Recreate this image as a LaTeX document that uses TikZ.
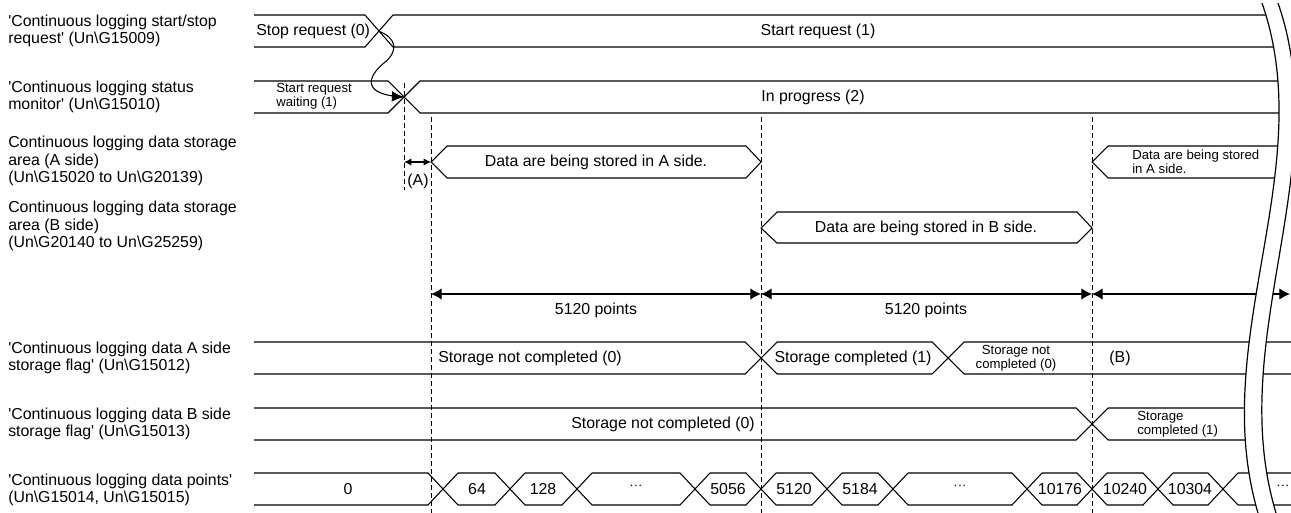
\documentclass[tikz,border=0pt]{standalone}
\usepackage{fontspec}
\setmainfont{Liberation Sans}
\usetikzlibrary{positioning,
calc,
arrows.meta,
decorations.markings}
\tikzstyle{Sig} = [line width=0.8pt, line join=miter]
\tikzstyle{Guide} = [line width=0.7pt, dash pattern=on 3.5pt off 2.5pt]
\tikzstyle{Dim} = [line width=0.8pt, {Latex[length=8pt,width=8.5pt]}-{Latex[length=8pt,width=8.5pt]}]
\tikzstyle{Txt} = [inner sep=0pt, font=\fontsize{11.9}{13.1}\selectfont]
\tikzstyle{Small} = [inner sep=0pt, align=left, font=\fontsize{9.9}{10.6}\selectfont]
\tikzstyle{Name} = [Txt, anchor=west, align=left]
\tikzstyle{Arrow} = [
line width=0.8pt,
decoration={
markings,
mark=at position 0.999 with {
\arrow{Latex[length=9pt,width=8pt]}
}
},
postaction = {decorate}
]

\begin{document}
\begin{tikzpicture}[x=0.75pt, y=-0.75pt]
   \useasboundingbox (0,0) rectangle (1291,513);

   % signal names
   \node[Name] (n1) at (8,31) {\textquotesingle Continuous logging start/stop\\request\textquotesingle\ (Un\textbackslash G15009)};
   \node[Name] (n2) at (8,97) {\textquotesingle Continuous logging status\\monitor\textquotesingle\ (Un\textbackslash G15010)};
   \node[Name] (n3) at (8,161) {Continuous logging data storage\\area (A side)\\(Un\textbackslash G15020 to Un\textbackslash G20139)};
   \node[Name] (n4) at (8,226) {Continuous logging data storage\\area (B side)\\(Un\textbackslash G20140 to Un\textbackslash G25259)};
   \node[Name] (n5) at (8,358) {\textquotesingle Continuous logging data A side\\storage flag\textquotesingle\ (Un\textbackslash G15012)};
   \node[Name] (n6) at (8,424) {\textquotesingle Continuous logging data B side\\storage flag\textquotesingle\ (Un\textbackslash G15013)};
   \node[Name] (n7) at (8,490) {\textquotesingle Continuous logging data points\textquotesingle\\(Un\textbackslash G15014, Un\textbackslash G15015)};

   % rows cut at the break
   \begin{scope}
   \clip (0,0) -- (1262,3) .. controls (1320,170) and (1207,340) .. (1258,513) -- (0,513) -- cycle;
   \draw[Sig] (254,15) -- (365,15) -- (393,47) -- (1300,47);
   \draw[Sig] (254,47) -- (365,47) -- (393,15) -- (1300,15);
   \draw[Sig] (254,81) -- (388,81) -- (420,113) -- (1300,113);
   \draw[Sig] (254,113) -- (388,113) -- (420,81) -- (1300,81);
   \draw[Sig] (1300,146) -- (1108,146) -- (1092,162) -- (1108,178) -- (1300,178);
   \draw[Sig] (254,408) -- (1076,408) -- (1108,440) -- (1300,440);
   \draw[Sig] (254,440) -- (1076,440) -- (1108,408) -- (1300,408);
   \end{scope}

   \draw[Sig] (431,162) -- (447,146) -- (746,146) -- (761,162) -- (746,178) -- (447,178) -- cycle;
   \draw[Sig] (761,228) -- (777,212) -- (1077,212) -- (1092,228) -- (1077,243) -- (777,243) -- cycle;
   \draw[Sig] (254,342) -- (745,342) -- (777,374) -- (932,374) -- (964,342) -- (1300,342);
   \draw[Sig] (254,374) -- (745,374) -- (777,342) -- (932,342) -- (964,374) -- (1300,374);
   \draw[Sig] (254,473) -- (428,473) -- (458,505) -- (495,505) -- (525,473) -- (562,473) -- (592,505) -- (680,505) -- (710,473) -- (746,473) -- (776,505) -- (812,505) -- (842,473) -- (878,473) -- (908,505) -- (1012,505) -- (1042,473) -- (1077,473) -- (1107,505) -- (1143,505) -- (1173,473) -- (1208,473) -- (1238,505) -- (1300,505);
   \draw[Sig] (254,505) -- (428,505) -- (458,473) -- (495,473) -- (525,505) -- (562,505) -- (592,473) -- (680,473) -- (710,505) -- (746,505) -- (776,473) -- (812,473) -- (842,505) -- (878,505) -- (908,473) -- (1012,473) -- (1042,505) -- (1077,505) -- (1107,473) -- (1143,473) -- (1173,505) -- (1208,505) -- (1238,473) -- (1300,473);

   % timing guides
   \coordinate (g1t) at (404,83);
   \coordinate (g1b) at (404,190);
   \coordinate (g2t) at (431,117);
   \coordinate (g2b) at (431,513);
   \coordinate (g3t) at (761,117);
   \coordinate (g3b) at (761,513);
   \coordinate (g4t) at (1092,117);
   \coordinate (g4b) at (1092,513);
   \draw[Guide] (g1t) -- (g1b);
   \draw[Guide] (g2t) -- (g2b);
   \draw[Guide] (g3t) -- (g3b);
   \draw[Guide] (g4t) -- (g4b);

   \coordinate (x1) at (378,31);
   \coordinate (x2) at (404,97);
   \draw[Arrow] (x1) .. controls (398,38) and (398,52) .. (384,63) .. controls (368,76) and (360,95) .. (x2);

   \coordinate (a1) at (404,162);
   \coordinate (a2) at (431,162);
   \draw[line width=0.8pt, {Latex[length=5.5pt,width=5.5pt]}-{Latex[length=5.5pt,width=5.5pt]}] (a1) -- (a2);

   \coordinate (d1) at (431,294);
   \coordinate (d2) at (761,294);
   \coordinate (d3) at (1092,294);
   \coordinate (d4) at (1290,294);
   \draw[Dim] (d1) -- (d2);
   \draw[Dim] (d2) -- (d3);
   \draw[Dim] (d3) -- (d4);

   % break
   \fill[white] (1262,3) .. controls (1320,170) and (1207,340) .. (1258,513) -- (1276,513) .. controls (1224,340) and (1336,170) .. (1278,3) -- cycle;
   \draw[line width=0.9pt] (1262,3) .. controls (1320,170) and (1207,340) .. (1258,513);
   \draw[line width=0.9pt] (1278,3) .. controls (1336,170) and (1224,340) .. (1276,513);

   % values
   \node[Txt, anchor=west] (stop) at (256,31) {Stop request (0)};
   \node[Txt] (start) at (818,31) {Start request (1)};
   \node[Small, anchor=west] (wait) at (276,96) {Start request\\waiting (1)};
   \node[Txt] (prog) at (813,97) {In progress (2)};
   \node[Txt] (tA) at (418,181) {(A)};
   \node[Txt] (sa1) at (596,162) {Data are being stored in A side.};
   \node[Small, anchor=west] (sa2) at (1132,162) {Data are being stored\\in A side.};
   \node[Txt] (sb1) at (926,228) {Data are being stored in B side.};
   \node[Txt] (p1) at (596,310) {5120 points};
   \node[Txt] (p2) at (926,310) {5120 points};
   \node[Txt, anchor=west] (fa0) at (438,358) {Storage not completed (0)};
   \node[Txt] (fa1) at (853,358) {Storage completed (1)};
   \node[Small, align=center] (fa2) at (1016,358) {Storage not\\completed (0)};
   \node[Txt] (tB) at (1120,358) {(B)};
   \node[Txt] (fb0) at (663,424) {Storage not completed (0)};
   \node[Small, anchor=west] (fb1) at (1137,424) {Storage\\completed (1)};
   \node[Txt] (v0) at (348,489) {0};
   \node[Txt] (v1) at (477,489) {64};
   \node[Txt] (v2) at (543,489) {128};
   \node[Small] (v3) at (636,487) {···};
   \node[Txt] (v4) at (728,489) {5056};
   \node[Txt] (v5) at (794,489) {5120};
   \node[Txt] (v6) at (860,489) {5184};
   \node[Small] (v7) at (960,487) {···};
   \node[Txt] (v8) at (1060,489) {10176};
   \node[Txt] (v9) at (1125,489) {10240};
   \node[Txt] (v10) at (1190,489) {10304};
   \node[Small] (v11) at (1283,487) {···};
\end{tikzpicture}
\end{document}
